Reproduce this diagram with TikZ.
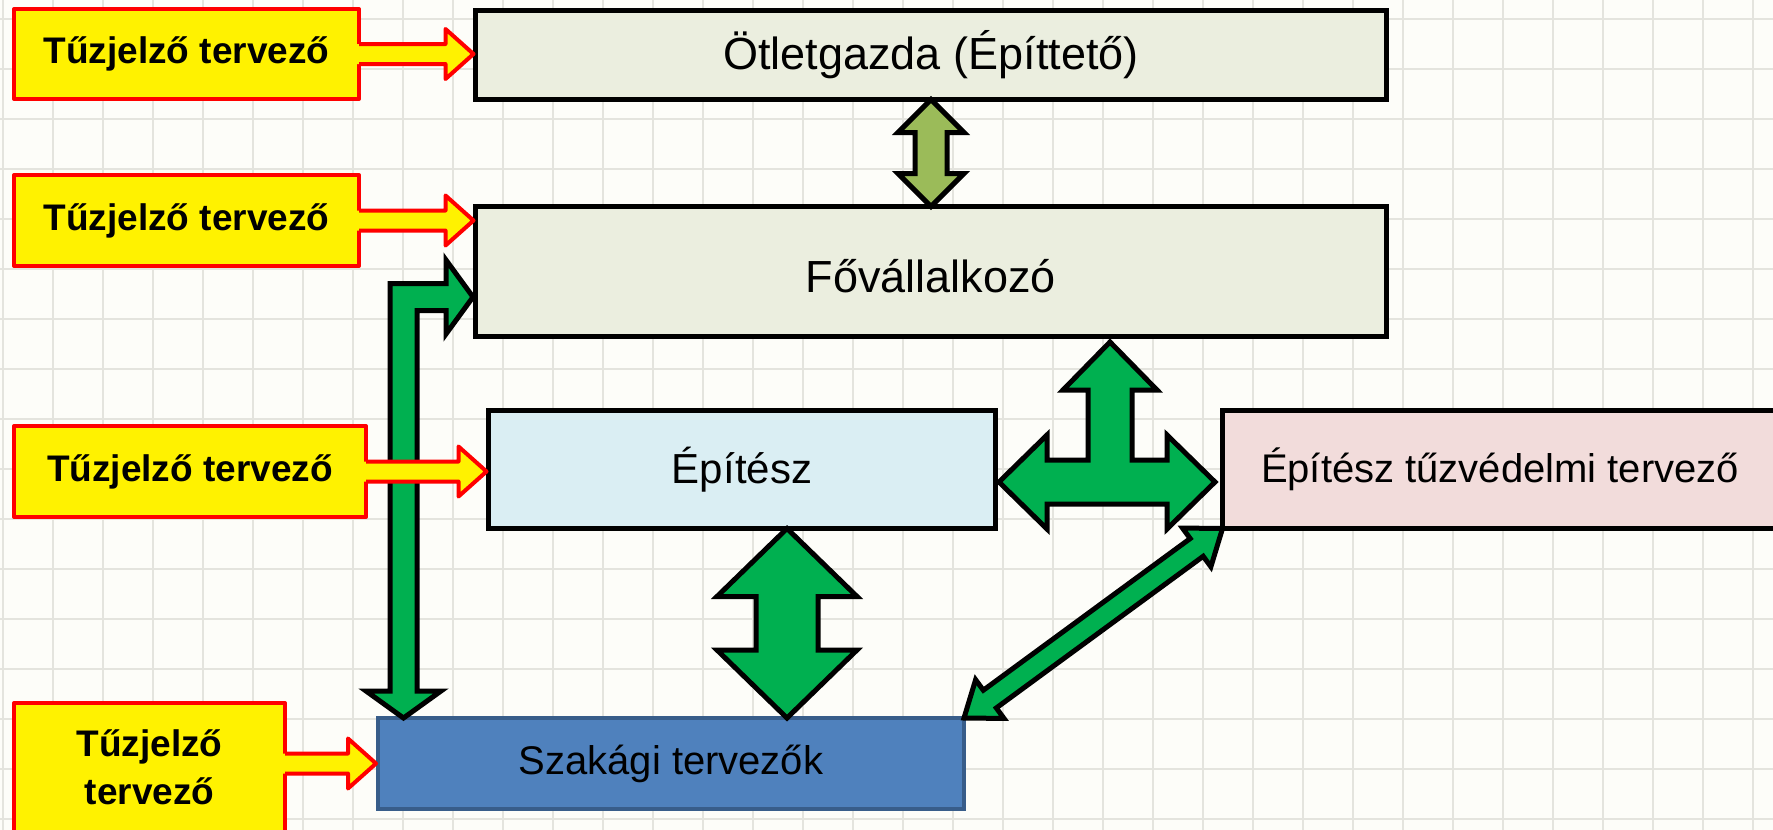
\documentclass[tikz,border=0pt]{standalone}
\usepackage{fontspec}
\setmainfont{Liberation Sans}
\usetikzlibrary{calc}
\definecolor{bgc}{HTML}{FDFDF9}
\definecolor{gridc}{HTML}{E4E4DE}
\definecolor{boxgreen}{HTML}{EBEEDF}
\definecolor{boxblue}{HTML}{DAEEF3}
\definecolor{boxpink}{HTML}{F2DCDB}
\definecolor{szakfill}{HTML}{4F81BD}
\definecolor{szakdraw}{HTML}{385D8A}
\definecolor{arrgreen}{HTML}{00B050}
\definecolor{arrolive}{HTML}{9BBB59}
\tikzset{
 mainbox/.style={draw=black, line width=5pt, outer sep=0pt, inner sep=0pt, font=\fontsize{40}{48}\selectfont},
 yfont/.style={font=\bfseries\fontsize{37}{48}\selectfont, align=center},
 ybox/.style={draw=red, fill=yellow, line width=4pt, outer sep=0pt, inner sep=0pt, line join=round, yfont},
 garrow/.style={fill=arrgreen, draw=black, line width=5pt, line join=miter, miter limit=10},
 oarrow/.style={garrow, fill=arrolive},
 yadraw/.style={draw=red, line width=4pt, line join=round},
 gridline/.style={draw=gridc, line width=1.3pt},
}
% double block arrow: style, A, B, shaft half width, head half width, head length
\newcommand\dblarrow[6]{%
 \draw[#1] (#2) -- ($(#2)!#6!(#3)!#5!90:(#3)$) -- ($(#2)!#6!(#3)!#4!90:(#3)$)
  -- ($(#3)!#6!(#2)!#4!-90:(#2)$) -- ($(#3)!#6!(#2)!#5!-90:(#2)$) -- (#3)
  -- ($(#3)!#6!(#2)!#5!90:(#2)$) -- ($(#3)!#6!(#2)!#4!90:(#2)$)
  -- ($(#2)!#6!(#3)!#4!-90:(#3)$) -- ($(#2)!#6!(#3)!#5!-90:(#3)$) -- cycle;}
% yellow callout arrow: start point (on source box edge), target point
\newcommand\yarrow[2]{%
 \fill[yellow] let \p1=(#1), \p2=(#2) in (\x1-3pt,\y1+10pt) -- (\x2-30pt,\y1+10pt) -- (\x2-30pt,\y1+25pt) -- (\x2-2pt,\y1) -- (\x2-30pt,\y1-25pt) -- (\x2-30pt,\y1-10pt) -- (\x1-3pt,\y1-10pt) -- cycle;
 \draw[yadraw] let \p1=(#1), \p2=(#2) in (\x1,\y1+10pt) -- (\x2-30pt,\y1+10pt) -- (\x2-30pt,\y1+25pt) -- (\x2-2pt,\y1) -- (\x2-30pt,\y1-25pt) -- (\x2-30pt,\y1-10pt) -- (\x1,\y1-10pt);}
\begin{document}
\begin{tikzpicture}[x=1pt,y=-1pt]
\useasboundingbox (0,0) rectangle (1773,830);
\clip (0,0) rectangle (1773,830);
\fill[bgc] (0,0) rectangle (1773,830);
\foreach \gx in {3,53,...,1753} \draw[gridline] (\gx,0) -- (\gx,830);
\foreach \gy in {19,69,...,819} \draw[gridline] (0,\gy) -- (1773,\gy);

% main boxes
\node[mainbox, fill=boxgreen, minimum width=911pt, minimum height=89pt, font=\fontsize{45}{54}\selectfont] (otlet) at (931,55) {Ötletgazda (Építtető)};
\node[mainbox, fill=boxgreen, minimum width=911pt, minimum height=130pt, font=\fontsize{45}{54}\selectfont, text height=42pt, text depth=0pt] (fov) at (931,271.5) {Fővállalkozó};
\node[mainbox, fill=boxblue, minimum width=507pt, minimum height=118pt, font=\fontsize{42}{50}\selectfont] (epit) at (742,469.5) {Építész};
\node[mainbox, fill=boxpink, minimum width=555pt, minimum height=118pt] (pink) at (1500,469.5) {Építész tűzvédelmi tervező};
\node[mainbox, draw=szakdraw, line width=4pt, fill=szakfill, minimum width=586pt, minimum height=91pt] (szak) at (671,763.5) {Szakági tervezők};

% yellow boxes
\node[ybox, minimum width=345pt, minimum height=90pt] (y1) at (186.5,54) {Tűzjelző tervező};
\node[ybox, minimum width=345pt, minimum height=91pt] (y2) at (186.5,220.5) {Tűzjelző tervező};
\node[ybox, minimum width=352pt, minimum height=91pt] (y3) at (190,471.5) {Tűzjelző tervező};
\node[ybox, minimum width=271pt, minimum height=140pt] (y4) at (149.5,773) {};
\node[yfont, inner sep=0pt] (y4t) at (149.5,767) {Tűzjelző\\tervező};

% green / olive arrows
\dblarrow{oarrow}{otlet.south}{fov.north}{16pt}{33pt}{33pt}
\dblarrow{garrow}{787,0 |- epit.south}{787,0 |- szak.north}{31pt}{70pt}{68pt}
\dblarrow{garrow}{szak.north east}{pink.south west}{11pt}{24pt}{32pt}

\coordinate (tleft) at (999,482);
\coordinate (tright) at (1215,482);
\coordinate (ttop) at (1110,342);
\draw[garrow] (ttop) -- (1157,390) -- (1132,390) -- (1132,460) -- (1167,460) -- (1167,435) -- (tright)
 -- (1167,529) -- (1167,504) -- (1047,504) -- (1047,529) -- (tleft) -- (1047,435) -- (1047,460)
 -- (1088,460) -- (1088,390) -- (1063,390) -- cycle;

\coordinate (lright) at (473,297);
\coordinate (ldown) at (403.5,718);
\draw[garrow] (lright) -- (446,260) -- (446,283.5) -- (390,283.5) -- (390,691) -- (366,691) -- (ldown)
 -- (441,691) -- (417,691) -- (417,310.5) -- (446,310.5) -- (446,334) -- cycle;

% yellow arrows
\yarrow{y1.east}{otlet.west}
\yarrow{y2.east}{y2.east -| fov.west}
\yarrow{y3.east}{epit.west}
\yarrow{y4.east |- szak.west}{szak.west}
\end{tikzpicture}
\end{document}
